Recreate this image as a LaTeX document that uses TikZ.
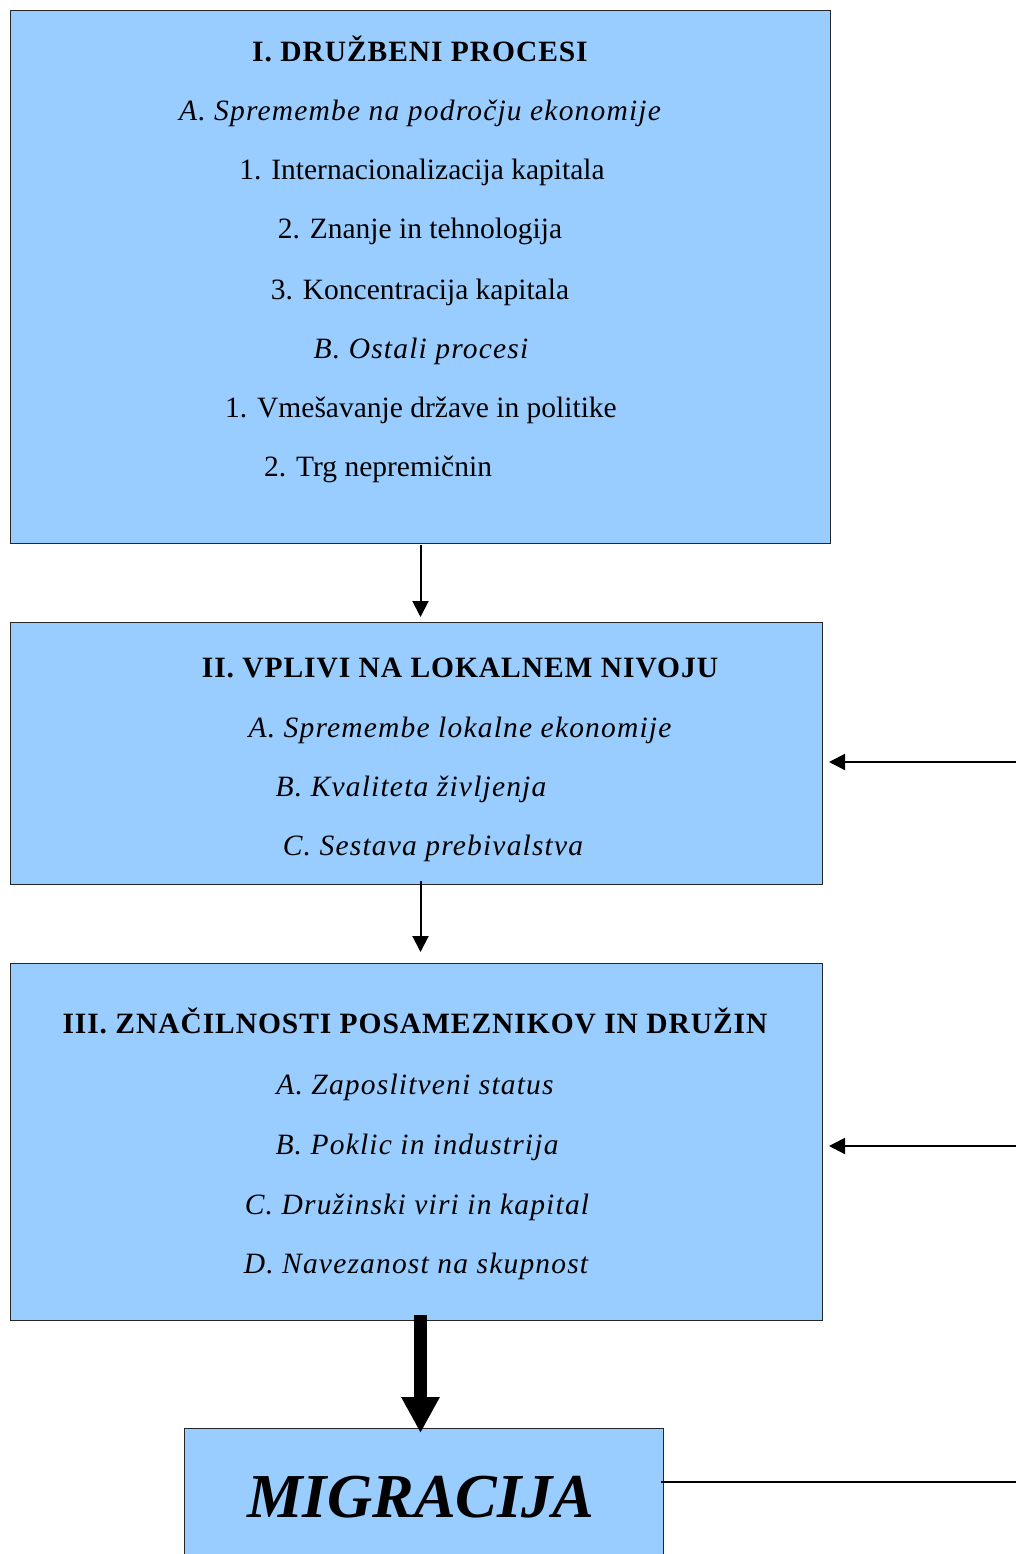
\documentclass[tikz,border=0pt]{standalone}
\usepackage{fontspec}
\setmainfont{Liberation Serif}
\usetikzlibrary{arrows.meta}
\definecolor{boxblue}{HTML}{99CCFF}
\begin{document}
\begin{tikzpicture}[x=1pt,y=-1pt,
  panel/.style={draw=black!85, line width=1pt, fill=boxblue, anchor=north west, inner sep=0pt, rectangle},
  txt/.style={anchor=base, inner sep=0pt, font=\fontsize{29.5}{32}\selectfont},
  ttl/.style={txt, font=\fontsize{29.5}{32}\selectfont\bfseries\addfontfeatures{LetterSpace=3.2}},
  itl/.style={txt, font=\fontsize{29.5}{32}\selectfont\itshape\addfontfeatures{LetterSpace=4.0}},
  arr/.style={line width=2pt, -{Triangle[width=16pt,length=16pt]}},
  bigarr/.style={line width=13pt, -{Triangle[width=36pt,length=36pt]}},
  plain/.style={line width=2pt}]
\clip (0,0) rectangle (1016,1554);
\useasboundingbox (0,0) rectangle (1016,1554);
% boxes
\node[panel, minimum width=820pt, minimum height=533pt] (b1) at (10,10) {};
\node[panel, minimum width=812pt, minimum height=262pt] (b2) at (10,622) {};
\node[panel, minimum width=812pt, minimum height=357pt] (b3) at (10,963) {};
\node[panel, minimum width=479pt, minimum height=160pt] (b4) at (184,1428) {};
% box 1 texts
\node[ttl] (t1) at (420,62) {I. DRUŽBENI PROCESI};
\node[itl] (t1a) at (420,121) {A. Spremembe na področju ekonomije};
\node[txt] (t11) at (422,180) {1. Internacionalizacija kapitala};
\node[txt] (t12) at (420,239) {2. Znanje in tehnologija};
\node[txt] (t13) at (420,299) {3. Koncentracija kapitala};
\node[itl] (t1b) at (421,358) {B. Ostali procesi};
\node[txt] (t1b1) at (421,417) {1. Vmešavanje države in politike};
\node[txt, anchor=base west] (t1b2) at (264,476) {2. Trg nepremičnin};
% box 2 texts
\node[ttl] (t2) at (460,677) {II. VPLIVI NA LOKALNEM NIVOJU};
\node[itl] (t2a) at (460,737) {A. Spremembe lokalne ekonomije};
\node[itl] (t2b) at (411,796) {B. Kvaliteta življenja};
\node[itl] (t2c) at (433,855) {C. Sestava prebivalstva};
% box 3 texts
\node[ttl] (t3) at (415,1033) {III. ZNAČILNOSTI POSAMEZNIKOV IN DRUŽIN};
\node[itl] (t3a) at (415,1094) {A. Zaposlitveni status};
\node[itl] (t3b) at (417,1154) {B. Poklic in industrija};
\node[itl] (t3c) at (417,1214) {C. Družinski viri in kapital};
\node[itl] (t3d) at (416,1273) {D. Navezanost na skupnost};
% box 4 text
\node[anchor=base, inner sep=0pt, font=\fontsize{62.5}{66}\selectfont\bfseries\itshape] (t4) at (421,1517) {MIGRACIJA};
% free ends on the right
\coordinate (r2) at (1016,762);
\coordinate (r3) at (1016,1146);
\coordinate (r4) at (1016,1482);
% connectors
\draw[arr, shorten <=1pt, shorten >=5pt] (b1.south) -- (b1.south |- b2.north);
\draw[arr, shorten <=-4pt, shorten >=11pt] (b1.south |- b2.south) -- (b1.south |- b3.north);
\draw[bigarr, shorten <=-6pt, shorten >=-5pt] (b1.south |- b3.south) -- (b1.south |- b4.north);
\draw[arr, shorten >=6pt] (r2) -- (r2 -| b2.east);
\draw[arr, shorten >=6pt] (r3) -- (r3 -| b3.east);
\draw[plain, shorten >=-3pt] (r4) -- (r4 -| b4.east);
\end{tikzpicture}
\end{document}
